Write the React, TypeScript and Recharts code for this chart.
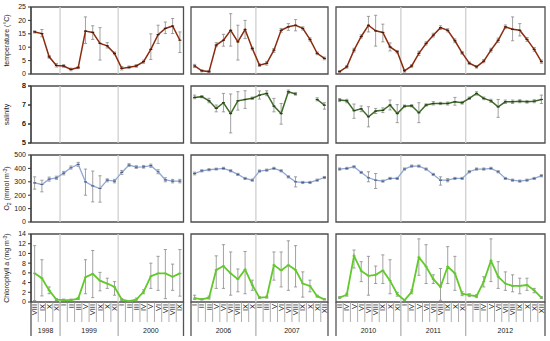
import React from "react";
import { LineChart, Line, XAxis, YAxis, ErrorBar, ReferenceLine, ReferenceArea } from "recharts";

// sampling months per block
const months1 = ["VIII", "IX", "X", "XI", "I", "II", "III", "V", "VIII", "IX", "X", "XI", "I", "II", "III", "IV", "V", "VI", "VII", "VIII", "IX"];
const months2 = ["I", "II", "III", "V", "VI", "VII", "VIII", "IX", "X", "II", "III", "V", "VI", "VII", "VIII", "IX", "X", "XI", "XII"];
const months3 = ["II", "IV", "V", "VI", "VII", "VIII", "IX", "X", "XI", "I", "IV", "V", "VI", "VII", "VIII", "IX", "X", "XI", "I", "III", "IV", "V", "VI", "VII", "VIII", "IX", "X", "XI", "XII"];
const years1 = [{ label: "1998", n: 4 }, { label: "1999", n: 8 }, { label: "2000", n: 9 }];
const years2 = [{ label: "2006", n: 9 }, { label: "2007", n: 10 }];
const years3 = [{ label: "2010", n: 9 }, { label: "2011", n: 9 }, { label: "2012", n: 11 }];

// temperature (°C): mean, lower and upper error bound
const temp1 = [15.7, 15.1, 6.4, 3.2, 3.0, 1.7, 2.4, 16.0, 15.5, 11.4, 10.5, 7.7, 2.1, 2.5, 3.0, 4.6, 9.2, 14.7, 17.0, 17.9, 12.6];
const temp1Lo = [15.3, 13.9, 5.9, 2.6, 2.5, 1.2, 2.0, 11.4, 12.9, 5.2, 9.7, 7.2, 1.5, 2.0, 2.5, 4.0, 5.4, 11.4, 15.1, 15.1, 8.0];
const temp1Hi = [16.1, 16.6, 6.9, 3.9, 3.5, 2.2, 2.8, 21.3, 18.0, 17.3, 11.7, 8.2, 2.8, 3.0, 3.5, 5.2, 15.0, 18.2, 19.4, 20.7, 15.7];
const temp2 = [3.0, 1.2, 0.9, 10.8, 12.6, 16.3, 12.0, 16.6, 9.5, 3.3, 4.0, 8.9, 16.3, 17.6, 18.2, 17.0, 12.9, 7.7, 5.8];
const temp2Lo = [2.4, 0.8, 0.5, 10.2, 10.4, 10.4, 5.2, 13.2, 9.0, 2.8, 3.3, 8.1, 15.6, 16.3, 16.1, 16.4, 12.3, 7.2, 5.3];
const temp2Hi = [3.6, 1.6, 1.3, 11.7, 14.8, 22.5, 18.2, 20.0, 10.0, 3.8, 4.7, 9.5, 17.0, 18.8, 20.3, 17.6, 13.5, 8.2, 6.3];
const temp3 = [0.9, 2.7, 8.9, 14.0, 18.2, 16.1, 15.5, 10.1, 8.3, 1.2, 3.0, 7.7, 11.4, 14.5, 17.3, 16.3, 12.4, 7.9, 4.0, 2.7, 4.8, 8.9, 12.6, 17.6, 16.7, 16.3, 12.9, 9.2, 4.6];
const temp3Lo = [0.5, 2.2, 8.2, 13.4, 15.7, 10.4, 12.0, 8.6, 7.8, 0.7, 2.5, 6.9, 10.8, 13.8, 16.6, 15.7, 11.7, 7.4, 3.5, 2.2, 4.2, 8.2, 11.8, 16.9, 12.4, 14.2, 12.2, 8.5, 4.0];
const temp3Hi = [1.3, 3.2, 9.6, 14.6, 21.5, 21.9, 18.6, 11.6, 8.8, 1.6, 3.5, 8.5, 12.0, 15.2, 18.0, 16.9, 13.1, 8.4, 4.5, 3.2, 5.4, 9.6, 13.4, 18.3, 21.3, 18.8, 13.6, 9.9, 5.2];

// salinity (no data in the first block)
const sal1: number[] = [];
const sal1Lo: number[] = [];
const sal1Hi: number[] = [];
const sal2 = [7.40, 7.44, 7.22, 6.82, 7.12, 6.55, 7.22, 7.29, 7.35, 7.52, 7.61, 6.94, 6.55, 7.70, 7.58, null, null, 7.29, 6.99];
const sal2Lo = [7.33, 7.38, 7.12, 6.64, 6.64, 5.53, 6.73, 6.82, 7.29, 7.31, 7.49, 6.64, 5.99, 7.61, 7.52, null, null, 7.22, 6.78];
const sal2Hi = [7.52, 7.50, 7.35, 7.00, 7.61, 7.58, 7.70, 7.75, 7.42, 7.74, 7.75, 7.35, 7.08, 7.79, 7.66, null, null, 7.38, 7.12];
const sal3 = [7.26, 7.22, 6.70, 6.80, 6.38, 6.68, 6.72, 7.00, 6.55, 6.94, 6.96, 6.59, 7.00, 7.08, 7.08, 7.08, 7.17, 7.12, 7.35, 7.61, 7.35, 7.22, 6.90, 7.17, 7.17, 7.20, 7.17, 7.20, 7.29];
const sal3Lo = [7.18, 7.12, 6.30, 6.65, 5.85, 6.55, 6.60, 6.74, 6.07, 6.88, 6.90, 6.07, 6.94, 7.00, 7.02, 7.00, 6.99, 7.05, 7.29, 7.52, 7.28, 7.14, 6.35, 7.08, 7.08, 7.12, 7.10, 7.12, 7.08];
const sal3Hi = [7.34, 7.30, 7.05, 6.95, 6.91, 6.82, 6.85, 7.26, 7.02, 7.00, 7.02, 7.12, 7.06, 7.18, 7.14, 7.16, 7.40, 7.19, 7.42, 7.70, 7.42, 7.30, 7.29, 7.26, 7.26, 7.28, 7.24, 7.28, 7.52];

// oxygen (mmol m-3)
const ox1 = [292, 280, 320, 330, 365, 405, 430, 300, 270, 250, 312, 305, 370, 425, 410, 412, 420, 375, 315, 305, 305];
const ox1Lo = [245, 225, 305, 318, 352, 395, 415, 200, 150, 148, 300, 292, 355, 415, 400, 402, 408, 360, 300, 292, 292];
const ox1Hi = [337, 312, 335, 342, 378, 418, 445, 395, 380, 345, 322, 318, 385, 435, 420, 422, 432, 390, 330, 318, 318];
const ox2 = [362, 382, 390, 395, 400, 382, 355, 325, 312, 380, 387, 400, 382, 337, 300, 295, 295, 312, 332];
const ox2Lo = [352, 374, 382, 388, 392, 374, 347, 317, 304, 372, 379, 392, 374, 329, 262, 287, 287, 304, 324];
const ox2Hi = [372, 390, 398, 402, 408, 390, 363, 333, 320, 388, 395, 408, 390, 345, 337, 303, 303, 320, 340];
const ox3 = [395, 400, 412, 370, 330, 312, 305, 325, 325, 395, 417, 417, 395, 355, 312, 312, 325, 325, 375, 395, 395, 400, 375, 325, 312, 305, 312, 325, 345];
const ox3Lo = [387, 392, 404, 362, 300, 250, 297, 317, 317, 387, 409, 409, 387, 347, 275, 300, 317, 317, 367, 387, 387, 392, 367, 317, 304, 297, 304, 317, 337];
const ox3Hi = [403, 408, 420, 378, 375, 362, 313, 333, 333, 403, 425, 425, 403, 363, 337, 324, 333, 333, 383, 403, 403, 408, 383, 333, 320, 313, 320, 333, 353];

// chlorophyll a (mg m-3)
const chl1 = [5.9, 4.9, 2.4, 0.5, 0.4, 0.4, 0.7, 5.1, 5.8, 4.4, 3.8, 3.1, 0.5, 0.2, 0.5, 2.1, 5.3, 5.9, 5.9, 5.2, 5.9];
const chl1Lo = [0.3, 1.25, 1.7, 0.3, 0.2, 0.2, 0.5, 1.7, 0.9, 2.3, 2.8, 1.4, 0.3, 0.1, 0.2, 1.7, 2.8, 2.4, 0.7, 2.4, 1.2];
const chl1Hi = [11.6, 8.7, 3.1, 0.7, 0.6, 0.6, 0.9, 8.7, 10.6, 6.1, 4.9, 4.2, 0.7, 0.3, 0.8, 2.5, 8.0, 9.4, 10.8, 7.8, 10.8];
const chl2 = [0.8, 0.55, 0.9, 6.6, 7.4, 5.9, 4.7, 6.7, 3.5, 0.9, 1.0, 7.6, 6.5, 7.6, 6.6, 3.8, 3.3, 1.2, 0.55];
const chl2Lo = [0.5, 0.4, 0.6, 2.8, 2.8, 1.4, 2.1, 1.7, 2.4, 0.7, 0.8, 4.5, 3.1, 2.4, 3.1, 1.0, 2.1, 1.0, 0.4];
const chl2Hi = [1.4, 0.7, 1.2, 9.5, 11.8, 10.3, 6.8, 10.4, 4.5, 1.1, 1.2, 10.3, 10.3, 12.6, 11.6, 6.2, 4.5, 1.4, 0.7];
const chl3 = [0.9, 1.5, 9.5, 6.4, 5.4, 5.6, 6.5, 4.4, 1.6, 0.35, 2.1, 9.2, 7.3, 4.7, 3.1, 7.3, 5.9, 1.7, 1.4, 1.2, 4.2, 8.5, 5.2, 3.8, 3.3, 3.3, 3.5, 2.4, 0.9];
const chl3Lo = [0.7, 1.2, 7.0, 4.2, 1.4, 3.8, 3.8, 1.7, 1.2, 0.2, 1.7, 5.5, 3.8, 3.8, 0.35, 3.8, 2.4, 1.3, 1.1, 0.9, 3.1, 4.2, 2.8, 2.4, 2.1, 1.7, 2.4, 1.9, 0.7];
const chl3Hi = [1.1, 1.8, 10.7, 8.3, 9.4, 7.4, 9.7, 8.7, 2.0, 0.5, 2.5, 13.0, 11.8, 5.6, 6.9, 11.4, 9.4, 2.1, 1.7, 1.5, 5.2, 13.0, 8.3, 6.2, 5.6, 4.9, 4.9, 2.8, 1.1];

const FONT = "'Liberation Sans', Arial, sans-serif";

const blocks = [
  { months: months1, years: years1, x0: 31, x1: 183.5 },
  { months: months2, years: years2, x0: 191, x1: 328 },
  { months: months3, years: years3, x0: 336, x1: 545 },
];

const vars = [
  {
    y0: 7, y1: 74, domain: [0, 25], ticks: [0, 5, 10, 15, 20, 25], color: "#8b2c10", dotColor: "#4a1a08", sw: 1.5,
    series: [[temp1, temp1Lo, temp1Hi], [temp2, temp2Lo, temp2Hi], [temp3, temp3Lo, temp3Hi]],
  },
  {
    y0: 86, y1: 143, domain: [5, 8], ticks: [5, 6, 7, 8], color: "#3f6b28", dotColor: "#24401a", sw: 1.5,
    series: [[sal1, sal1Lo, sal1Hi], [sal2, sal2Lo, sal2Hi], [sal3, sal3Lo, sal3Hi]],
  },
  {
    y0: 155, y1: 222, domain: [0, 500], ticks: [0, 100, 200, 300, 400, 500], color: "#8fa8d8", dotColor: "#4d5f86", sw: 1.3,
    series: [[ox1, ox1Lo, ox1Hi], [ox2, ox2Lo, ox2Hi], [ox3, ox3Lo, ox3Hi]],
  },
  {
    y0: 234, y1: 302, domain: [0, 14], ticks: [0, 2, 4, 6, 8, 10, 12, 14], color: "#62c92a", dotColor: "#62c92a", sw: 1.8,
    series: [[chl1, chl1Lo, chl1Hi], [chl2, chl2Lo, chl2Hi], [chl3, chl3Lo, chl3Hi]],
  },
];

function MonthTick(props: any) {
  const { x, y, payload, block } = props;
  const i = Number(payload.value);
  const n = block.months.length;
  const bw = (block.x1 - block.x0) / n;
  const starts: number[] = [];
  let acc = 0;
  block.years.forEach((yr: any) => { starts.push(acc); acc += yr.n; });
  const yi = starts.indexOf(i);
  const nextIsYear = starts.includes(i + 1);
  const rx = x + bw / 2;
  let right;
  if (i === n - 1) right = <line x1={rx} x2={rx} y1={y} y2={y + 34} stroke="#555" strokeWidth={1.3} />;
  else if (nextIsYear) right = <line x1={rx} x2={rx} y1={y} y2={y + 34} stroke="#aaa" strokeWidth={1.2} />;
  else right = <line x1={rx} x2={rx} y1={y} y2={y + 20} stroke="#999" strokeWidth={0.8} />;
  return (
    <g>
      {i === 0 && <line x1={x - bw / 2} x2={x - bw / 2} y1={y} y2={y + 34} stroke="#555" strokeWidth={1.3} />}
      {right}
      <text x={0} y={0} transform={`translate(${x},${y + 2}) rotate(-90)`} textAnchor="end" dy="0.35em"
        fontSize={7.5} fill="#222" fontFamily={FONT}>{block.months[i]}</text>
      {yi >= 0 && (
        <text x={x + ((block.years[yi].n - 1) / 2) * bw} y={y + 31} textAnchor="middle" fontSize={7}
          fill="#222" fontFamily={FONT}>{block.years[yi].label}</text>
      )}
    </g>
  );
}

function ValueTick(props: any) {
  const { x, y, payload } = props;
  return (
    <text x={x} y={y} dy="0.35em" textAnchor="end" fontSize={7} fill="#222" fontFamily={FONT}>{payload.value}</text>
  );
}

function Panel({ bi, vi }: { bi: number; vi: number }) {
  const b = blocks[bi];
  const v = vars[vi];
  const last = vi === vars.length - 1;
  const n = b.months.length;
  const [vals, lo, hi] = v.series[bi] as any[];
  const hasData = vals.length > 0;
  const data = b.months.map((_, i) => {
    const y = vals[i];
    return { i, v: y ?? null, e: y == null ? null : [y - lo[i], hi[i] - y] };
  });
  const padL = bi === 0 ? b.x0 : 3;
  const padR = 3;
  const padT = 3;
  const axisH = last ? 39 : 0;
  const padB = last ? 0 : 3;
  const width = b.x1 - b.x0 + padL + padR;
  const height = v.y1 - v.y0 + padT + padB + axisH;
  const starts: number[] = [];
  let acc = 0;
  b.years.forEach((yr) => { starts.push(acc); acc += yr.n; });
  const dot = (p: any) => {
    if (p.value == null || p.cy == null || isNaN(p.cy)) return <g key={p.index} />;
    return <line key={p.index} x1={p.cx - 1.5} x2={p.cx + 1.5} y1={p.cy} y2={p.cy} stroke={v.dotColor} strokeWidth={1.2} />;
  };
  return (
    <div style={{ position: "absolute", left: b.x0 - padL, top: v.y0 - padT, width, height }}>
      <LineChart width={width} height={height} data={data}
        margin={{ top: padT, right: padR, bottom: padB, left: bi === 0 ? 0 : padL }}>
        <XAxis type="number" dataKey="i" domain={[-0.5, n - 0.5]} allowDataOverflow ticks={b.months.map((_, i) => i)} interval={0}
          hide={!last} height={axisH} axisLine={false} tickLine={false} tickSize={0} tickMargin={0}
          tick={last ? (p: any) => <MonthTick {...p} block={b} /> : false} />
        <YAxis type="number" domain={v.domain} allowDataOverflow ticks={v.ticks} interval={0} hide={bi !== 0} width={b.x0}
          tickSize={3} tickMargin={2} stroke="#333" tick={(p: any) => <ValueTick {...p} />} />
        {starts.slice(1).map((s) => (
          <ReferenceLine key={s} x={s - 0.5} stroke="#cfcfcf" strokeWidth={1.3} />
        ))}
        <ReferenceArea x1={-0.5} x2={n - 0.5} y1={v.domain[0]} y2={v.domain[1]} fill="none" fillOpacity={0}
          stroke="#4d4d4d" strokeWidth={1.3} ifOverflow="visible" />
        {hasData && (
          <Line type="linear" dataKey="v" stroke={v.color} strokeWidth={v.sw} dot={dot} activeDot={false}
            connectNulls={false} isAnimationActive={false}>
            <ErrorBar dataKey="e" direction="y" width={1.6} stroke="#8a8a8a" strokeWidth={0.8} isAnimationActive={false} />
          </Line>
        )}
      </LineChart>
    </div>
  );
}

// tick labels for the salinity axis of the first block, which holds no measurements
function EmptyAxisTicks() {
  const v = vars[1];
  const x = blocks[0].x0;
  const [d0, d1] = v.domain;
  return (
    <g>
      {v.ticks.map((t) => {
        const y = v.y1 - ((t - d0) / (d1 - d0)) * (v.y1 - v.y0);
        return (
          <g key={t}>
            <line x1={x - 3} x2={x} y1={y} y2={y} stroke="#333" />
            <text x={x - 5} y={y} dy="0.35em" textAnchor="end" fontSize={7} fill="#222">{t}</text>
          </g>
        );
      })}
    </g>
  );
}

export default function App() {
  return (
    <div style={{ position: "absolute", left: 0, top: 0, width: 550, height: 341, background: "#fff", overflow: "hidden", fontFamily: FONT }}>
      {vars.map((_, vi) => blocks.map((__, bi) => <Panel key={`${vi}-${bi}`} bi={bi} vi={vi} />))}
      <svg width={550} height={341} style={{ position: "absolute", left: 0, top: 0, pointerEvents: "none" }}>
        <g fontFamily={FONT}>
          <EmptyAxisTicks />
        </g>
        <g fontFamily={FONT} fontSize={7} fill="#222" textAnchor="middle">
          <text transform="translate(9,40.5) rotate(-90)">temperature (°C)</text>
          <text transform="translate(9,114.5) rotate(-90)">salinity</text>
          <text transform="translate(9,188.5) rotate(-90)">
            O<tspan fontSize={5} dy={1.5}>2</tspan><tspan dy={-1.5}> (mmol m</tspan><tspan fontSize={5} dy={-2.5}>-3</tspan><tspan dy={2.5}>)</tspan>
          </text>
          <text transform="translate(9,268) rotate(-90)">
            Chlorophyll a (mg m<tspan fontSize={5} dy={-2.5}>-3</tspan><tspan dy={2.5}>)</tspan>
          </text>
        </g>
      </svg>
    </div>
  );
}
